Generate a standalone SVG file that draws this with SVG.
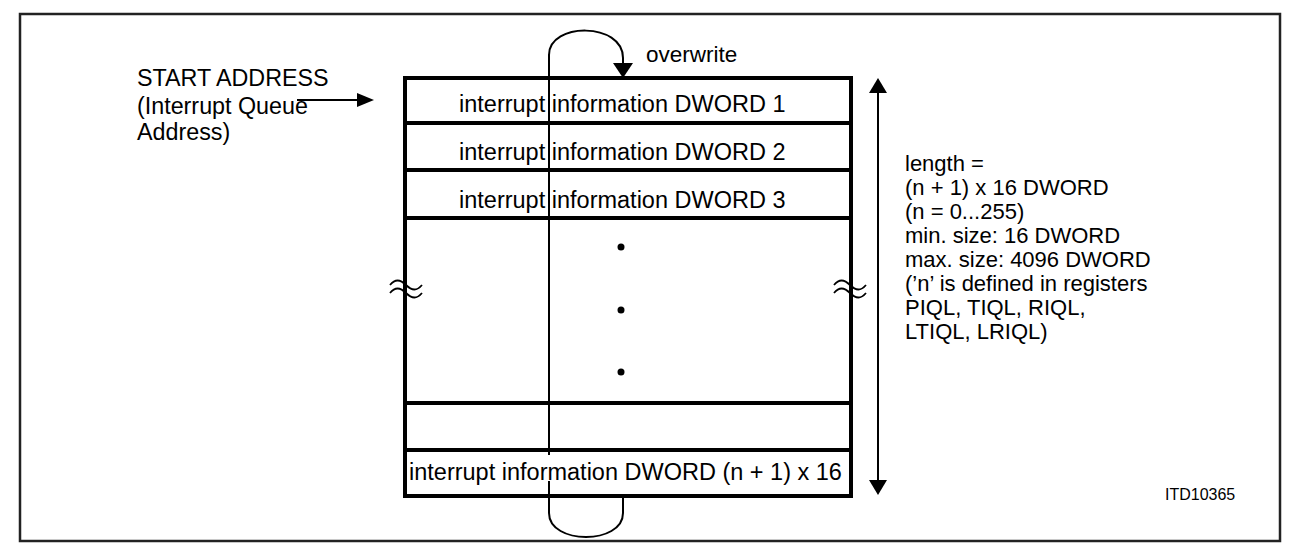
<svg xmlns="http://www.w3.org/2000/svg" width="1300" height="555" viewBox="0 0 1300 555">
<style>
.t{font-family:"Liberation Sans",Arial,sans-serif;font-size:22px;fill:#000}
.lt{font-family:"Liberation Sans",Arial,sans-serif;font-size:23.3px;fill:#000}
.bt{font-family:"Liberation Sans",Arial,sans-serif;font-size:23.5px;fill:#000}
.thick{stroke:#000;stroke-width:4;fill:none}
.thin{stroke:#000;stroke-width:2;fill:none}
.wave{stroke:#000;stroke-width:1.8;fill:none}
</style>
<rect x="0" y="0" width="1300" height="555" fill="#fff"/>
<rect id="frame" x="20" y="14" width="1260" height="527" fill="none" stroke="#222" stroke-width="2.5"/>

<g id="queue">
  <rect x="405" y="78" width="446" height="418" fill="#fff" class="thick"/>
  <line class="thick" x1="405" y1="123" x2="851" y2="123"/>
  <line class="thick" x1="405" y1="170" x2="851" y2="170"/>
  <line class="thick" x1="405" y1="218" x2="851" y2="218"/>
  <line class="thick" x1="405" y1="403" x2="851" y2="403"/>
  <line class="thick" x1="405" y1="450" x2="851" y2="450"/>
  <text class="bt" x="459" y="112">interrupt information DWORD 1</text>
  <text class="bt" x="459" y="160">interrupt information DWORD 2</text>
  <text class="bt" x="459" y="208">interrupt information DWORD 3</text>
  <text class="bt" x="409" y="480">interrupt information DWORD (n + 1) x 16</text>
  <circle cx="621" cy="247" r="3.5" fill="#000"/>
  <circle cx="621" cy="310" r="3.5" fill="#000"/>
  <circle cx="621" cy="372" r="3.5" fill="#000"/>
  <path class="wave" d="M390,285 c5,-6 10,-6 16,0 s11,6 16,0"/>
  <path class="wave" d="M390,293 c5,-6 10,-6 16,0 s11,6 16,0"/>
  <path class="wave" d="M834,285 c5,-6 10,-6 16,0 s11,6 16,0"/>
  <path class="wave" d="M834,293 c5,-6 10,-6 16,0 s11,6 16,0"/>
</g>

<g id="start-address">
  <text class="lt" x="137" y="86">START ADDRESS</text>
  <text class="lt" x="137" y="114">(Interrupt Queue</text>
  <text class="lt" x="137" y="140">Address)</text>
</g>

<g id="overwrite-label">
  <text class="t" x="646" y="62" style="font-size:22.5px">overwrite</text>
</g>

<g id="length-label">
  <text class="t" x="905" y="171">length =</text>
  <text class="t" x="905" y="195">(n + 1) x 16 DWORD</text>
  <text class="t" x="905" y="219">(n = 0...255)</text>
  <text class="t" x="905" y="243">min. size: 16 DWORD</text>
  <text class="t" x="905" y="267">max. size: 4096 DWORD</text>
  <text class="t" x="905" y="291">(’n’ is defined in registers</text>
  <text class="t" x="905" y="315">PIQL, TIQL, RIQL,</text>
  <text class="t" x="905" y="339">LTIQL, LRIQL)</text>
</g>

<g id="figure-id">
  <text class="t" x="1165" y="500" style="font-size:16px">ITD10365</text>
</g>

<g id="connectors">
  <line class="thin" x1="297" y1="100" x2="358" y2="100"/>
  <polygon points="374,100 357,93 357,107" fill="#000"/>
  <path class="thin" d="M549,455 L549,55 C549,22 623,22 623,58 L623,64"/>
  <polygon points="613,63 633,63 623,78" fill="#000"/>
  <path class="thin" d="M549,481 L549,513 C549,545 623,545 623,513 L623,497"/>
  <line class="thin" x1="878" y1="92" x2="878" y2="481"/>
  <polygon points="878,78 869,93 887,93" fill="#000"/>
  <polygon points="878,495 869,480 887,480" fill="#000"/>
</g>
</svg>
